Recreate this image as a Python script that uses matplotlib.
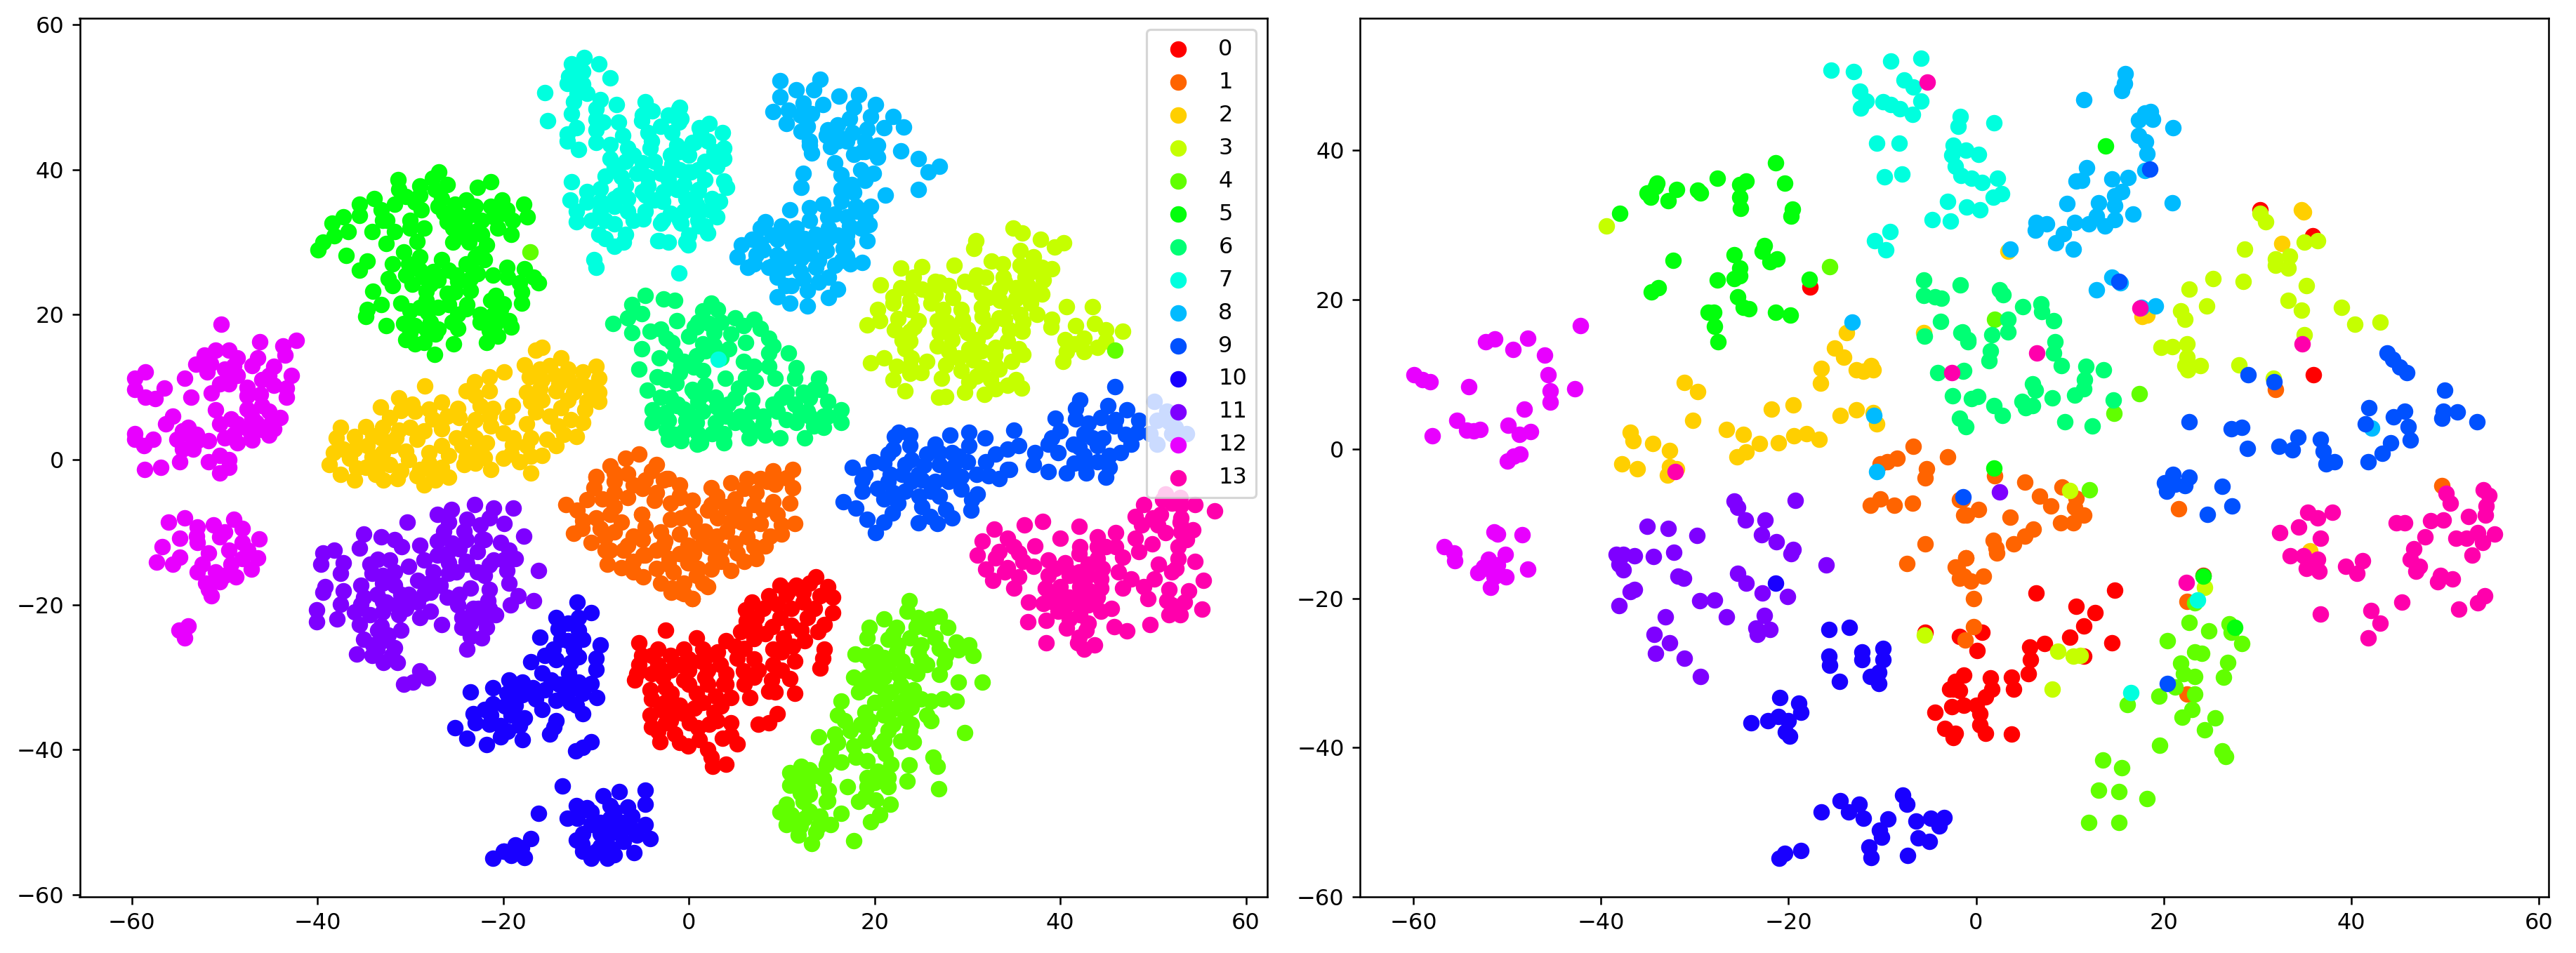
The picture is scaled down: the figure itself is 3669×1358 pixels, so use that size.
import numpy as np
import matplotlib
matplotlib.use("Agg")
import matplotlib.pyplot as plt

L0 = [(13.7,-16.2),(9.8,-17.3),(11.6,-17.3),(15,-17.5),(8.6,-18.8),(10.5,-18.6),(12.3,-18.3),(14.1,-18.8),(15.5,-19),(6.8,-19.6),(6.1,-20.7),(9.5,-19.9),(12.3,-19.6),(15.5,-21.1),(9.8,-21.8),(7.25,-21.8),(12.8,-21.8),(14.6,-22.7),(13.9,-23.7),(12.1,-23.5),(5.6,-23.7),(8.2,-24),(10.2,-24.6),(11.2,-25.7),(5,-25.7),(9.1,-26.1),(14.6,-26.1),(14.1,-28.7),(14.4,-27.4),(11.4,-27.8),(5.2,-27.4),(9.1,-28.3),(5.9,-29.1),(10.9,-30.2),(8.9,-30.4),(7,-30),(11.4,-32.2),(8.6,-31.9),(6.6,-32.8),(3.8,-30.9),(4.5,-32.8),(3.1,-26.5),(3.4,-28.3),(0.8,-24.6),(-2.5,-23.5),(-5.4,-25.3),(-3.3,-26.1),(-0.5,-26.1),(1.5,-26.1),(-5.4,-28.3),(-3.3,-28.3),(-1,-28.3),(1.3,-27.8),(-5.8,-30.4),(-4.2,-31.7),(-2.8,-30),(-0.5,-30.4),(1.75,-30),(-1.9,-32.2),(0.8,-32.2),(2.9,-32.6),(-1,-33.9),(2.7,-34.8),(-4.2,-35.2),(-2.6,-33.5),(0.6,-34.3),(0.1,-36.3),(-4,-36.9),(2.2,-36.5),(4.5,-36.3),(-3.1,-38.9),(-1.5,-37.8),(-0.1,-39.5),(1.1,-38.6),(3.6,-38.4),(5.2,-39.2),(7.5,-36.5),(8.6,-36.3),(9.5,-35),(2.4,-41),(4,-42),(2.6,-42.3),(-5.1,-27),(-5.6,-29.5),(-3.3,-37.5),(-2,-36),(-1.5,-35),
      (-4,-27),(-2,-27),(0,-27.5),(2,-27),(4,-25),(-4,-29.5),(-2,-29),(0,-29),(2,-29),(4,-29.5),(-4,-33),(-2.5,-31.5),(0,-31),(2,-31),(4,-31),(-3,-34.5),(-0.5,-35),(1.5,-33.5),(3.5,-34),(-2.5,-36.3),(1,-37),(6,-26),(7,-24.7),(7,-27.5),(7.5,-29),(6,-31),(10,-29),(10,-26.5),(12.5,-25),(7,-23),(9,-23),(11,-22.8),(8,-20.5),(11,-20.5),(13.5,-20.5),(10.8,-18),(13,-17),(6.2,-22.3),(9.3,-32),(3,-36),(-1,-39),(2,-40),(4.5,-38)]
L1 = [(-13.2,-6.2),(-12.4,-10.2),(-10,-2.3),(-5.4,0.8),(-6.8,0.2),(-8.5,-0.9),(-10,-2.4),(-3.5,-0.7),(-2.2,-2.6),(-10.2,-3.9),(-9.3,-5.4),(-6.6,-5.2),(-3.7,-5.6),(-2.7,-2.8),(-6.6,-1.9),(-4.7,-2.8),(-1,-4.9),(0.4,-5.6),(-11.4,-8.4),(-10,-8),(-9,-10.6),(-7.3,-8.6),(-5.1,-7.5),(-4.7,-9.3),(-10.5,-11.4),(-8.8,-14.4),(-7.3,-14.9),(-4.9,-16.2),(-6.6,-11.8),(-4.7,-13.2),(-2.7,-11.8),(-0.1,-11.8),(-0.1,-14.2),(-2.2,-14.4),(-1.8,-17.7),(0.4,-19.2),(-0.8,-18.3),(-2,-8.2),(11.2,-1.3),(9.1,-1.5),(7.7,-2.6),(6.3,-2.6),(4.5,-3.2),(2.4,-3.9),(-1,-5.2),(0.4,-5.6),(11.2,-3.9),(9.3,-3.4),(7.25,-4.5),(2.4,-6.2),(4.95,-5.4),(10.9,-6),(9.1,-5.8),(7,-6.2),(5,-7.1),(11.4,-8.8),(9.5,-7.5),(10,-10.3),(7.7,-8.8),(5.65,-8.6),(3.1,-8),(1.75,-9.9),(4.05,-9.9),(6.3,-10.6),(8.2,-11.9),(7.25,-13.6),(5.2,-12.9),(0.1,-11.9),(2.2,-12),(-0.1,-14.2),(2.4,-15.1),(4.5,-15.3),(2.9,-13.6),(0.6,-8.4),(-5.1,-7.5),(-2.1,-13.6),(-1.7,-15.5),(-1.9,-18.3),(0.4,-19.2),(2,-17.5),(-0.5,-17),(0.8,-16),(-4.9,-13.2),(-2.6,-11.2),(-3.5,-4.5),(-2.4,-2.6),(-8,-6.5),(-8.5,-12.5),(-6,-10.5),(-3,-10),(-0.8,-8),
      (-8,-3),(-6,-3.5),(-4,-1.5),(-8,-1.8),(-8,-4.5),(-5,-4),(-12,-7),(-11,-5.5),(-8.5,-7.5),(-11.5,-9.5),(-9.5,-9.5),(-8,-10),(-7,-12.5),(-9,-12.5),(-5,-11),(-3.5,-12.5),(-6,-14),(-3.5,-15),(-6,-15.5),(-1,-13),(-3,-17),(0.5,-13),(1,-10),(-1,-10.3),(3,-5),(6,-4),(8.5,-3),(10.5,-2.5),(4,-6.5),(6,-7.5),(8,-7),(10,-9),(8.8,-10.5),(6.5,-9),(4.5,-8.5),(3,-10.5),(5,-11.5),(7,-12),(3.5,-12.5),(1,-15),(3.5,-14),(1.5,-17),(-0.5,-18.5),(2,-7),(-2,-6),(0,-7.5),(-1,-3.5),(1.5,-11.5),(6,-14)]
L2 = [(-15.8,15.5),(-16.5,15.1),(-13.8,14),(-17.7,13.1),(-19.9,12.1),(-21.5,11.4),(-23.1,10.8),(-10,12.9),(-11.4,12.1),(-14.3,11.6),(-9.7,11.2),(-17.2,11.4),(-15.8,11),(-12.9,11),(-17.5,9.3),(-14.3,9.5),(-12.4,9.3),(-9.7,9.3),(-9.7,8),(-15.8,8.2),(-21.5,9.5),(-23,8.8),(-28.4,10.2),(-31.2,8.5),(-29.8,7.7),(-26.6,7.9),(-33.2,7.3),(-24.9,7.1),(-22.5,7.5),(-21.1,7.1),(-13.8,7.2),(-11.2,6.9),(-16.5,6.6),(-19.6,5.9),(-21.5,6),(-32.2,5.8),(-29.5,6.7),(-27.6,5.6),(-24.7,5.8),(-11.4,5.1),(-17.5,4.9),(-14.1,4.7),(-37.5,4.5),(-34.8,4.6),(-31.2,4.1),(-26.6,4.3),(-23.7,4.1),(-21.3,4.7),(-12.1,3.2),(-18.9,3),(-15.3,2.8),(-38,3),(-36,3.2),(-33.1,3),(-29.3,2.8),(-26.6,1.9),(-24.4,1.9),(-21.8,2.3),(-17.5,1.9),(-14.3,1.9),(-37.2,1.5),(-34.6,1.9),(-31.9,1.9),(-23,1),(-25.9,0.6),(-19.1,0.8),(-15.8,0.6),(-38.7,-0.7),(-36.5,0.2),(-34.1,0.4),(-30.2,0),(-24.2,-0.7),(-21.3,-1.3),(-18.2,-0.3),(-17,-1.8),(-37.5,-2),(-36,-2.8),(-34.8,-1.1),(-32.2,-0.7),(-32.9,-2.8),(-31.4,-2.6),(-29,-1.3),(-26.6,-1.1),(-29.3,-2.2),(-27.3,-2.8),(-25.9,-2.4),(-28.5,-3.5),
      (-15,13),(-16,12.5),(-13,12.5),(-11.5,10.5),(-14,10.5),(-16,9.8),(-13,8.2),(-11,8),(-10.8,10),(-17,8),(-15,6),(-12.7,5.5),(-19,7.5),(-24,9.5),(-26,6),(-28,7),(-31,6.8),(-23,5.5),(-30,4.5),(-33,4.5),(-28.5,4),(-25,3),(-23,3),(-20,3.7),(-19,2),(-17,3),(-13.5,3.5),(-36,1.5),(-33,1),(-30.5,1.2),(-28,1),(-24,0.3),(-22,0.3),(-20,0.2),(-17,0.5),(-35.8,-1.2),(-33.3,-0.8),(-31,-1.5),(-28,-0.5),(-27.5,-2),(-23,-0.5),(-33.7,-2),(-38.3,1),(-34,3.3),(-31.5,3)]
L3 = [(34.9,32),(35.9,31.3),(30.9,30.2),(37.9,30.4),(40.4,29.9),(39.4,29.3),(30.7,29.1),(35.7,28.9),(32.6,27.4),(37.1,28),(22.85,26.4),(25.1,26.6),(28.6,26.8),(35.7,26.8),(38,26.5),(39.1,26.3),(24.2,25.2),(26.5,24.6),(29.7,24.6),(32,25.2),(33.9,25.2),(36.2,25.2),(38.2,24.8),(20.65,24.1),(22.85,23.7),(25.1,23.5),(30.6,24.2),(35.2,23.7),(37.1,23.3),(32.25,22.4),(23.8,22),(28.4,22.4),(35.2,22.2),(38,22.9),(22,21.6),(26.1,21.6),(29.3,20.7),(34.5,21.1),(36.8,21.6),(20.3,20.7),(23.8,20.7),(27.4,20.7),(31.6,19.8),(33.4,19.6),(35.7,20),(37.5,20),(39.1,19.4),(40.7,21.1),(43.5,21.1),(19.2,18.6),(20.55,19.2),(22.15,17.9),(24.7,19.2),(26.75,19.2),(29.5,19.4),(39,18.3),(23.8,17.7),(28.35,17.9),(32,17.7),(34.55,17.9),(35.9,17.7),(41.65,18.5),(43.7,18.8),(44.9,17.9),(46.7,17.7),(23.8,16.4),(28.35,16.6),(31.1,16.6),(34.3,16.4),(40.5,16.6),(42.6,16.8),(44.9,16.4),(26.75,15.7),(23.3,15.3),(30.2,15.3),(35.5,15.3),(42.6,14.9),(40.7,14.9),(25.6,13.6),(24,14),(19.6,13.4),(21,14),(22.4,12.9),(30.65,13.8),(32.95,14.4),(34.8,13.6),(40.3,13.6),(23.8,11.9),(22,11),(27.7,13.1),(29.3,12.3),(31.6,12.7),(33.4,12.5),(27.2,11.2),(30.2,10.8),(32.5,11),(35.2,11),(35.8,9.9),(34.3,10.3),(23.3,9.5),(29.7,9.3),(31.8,9),(26.9,8.6),(27.7,8.7),
      (24,24),(26,23),(28,24),(22,22.5),(24,21),(26.5,22.8),(22.5,19.5),(27.8,19),(30,18),(31.5,23),(33.5,23.5),(34,24.5),(36,22.8),(33.5,22),(31.5,21),(36.5,24),(36,19),(32.5,18.5),(34,19.4),(33,15.5),(27,17.5),(30,17.5),(33,13),(31,11.5),(29,14),(31.5,15),(36,26.5),(37,26),(33.8,27),(28,15),(25,12),(33,9.8),(35.5,23),(27,24.5),(31,25.5),(41.5,16),(44,15.5),(36,14.5),(24.3,18.3),(23,16.5),(23.8,13)]
L4 = [(-17.1,28.7),(45.9,15.1),(23.7,-19.4),(23.5,-20.9),(21,-22),(27,-21.6),(24.7,-21.8),(27.9,-23.1),(19.4,-23.1),(22.4,-23.1),(25.6,-23.3),(19.2,-24.6),(21.5,-24.8),(23.8,-24.6),(26.5,-24.6),(28.8,-25.2),(30.2,-25.5),(17.9,-26.8),(20.1,-26.5),(22.4,-26.5),(24.7,-26.5),(27.7,-27),(30.65,-27),(31.6,-30.7),(19.6,-28),(21.5,-28.3),(23.8,-29.1),(25.6,-28.3),(17.8,-30),(19.2,-30),(21,-30),(27,-29.6),(29,-30.7),(18.3,-32),(22.85,-31.1),(24.2,-31.7),(28.8,-33.3),(26.05,-33.3),(27.4,-33),(21,-33),(22.85,-33.5),(16.4,-33.3),(16,-35.2),(19,-34.8),(21,-35.2),(23.3,-35.6),(25.6,-35.2),(26.05,-36),(29.7,-37.6),(17.35,-37.4),(19.2,-37.1),(21.5,-37.4),(23.8,-37.4),(14,-38.2),(15.7,-37.8),(17.8,-39.5),(24.2,-38.9),(15.3,-40.2),(21.2,-40.6),(19.2,-41.5),(16.4,-41.7),(26.3,-41),(23.7,-42.1),(26.75,-42.3),(12.1,-42.3),(14.8,-42.1),(10.9,-43.2),(13.7,-43.6),(21.5,-43.8),(19.2,-43.8),(23.5,-44.3),(10.9,-44.9),(12.8,-45.1),(15.05,-45.6),(17.1,-45.1),(19.2,-45.1),(21.5,-45.1),(26.9,-45.4),(12.3,-47.1),(14.8,-47.1),(18.3,-47.1),(20.1,-46.9),(21.7,-47.5),(10.5,-47.5),(9.8,-48.6),(16.4,-48.8),(20.55,-49),(19.6,-49.9),(12.5,-49.5),(14.1,-49.2),(10.5,-50.3),(15.3,-50.3),(11.8,-51.8),(13.7,-51.4),(13.2,-52.9),(17.8,-52.6),
      (22,-24),(24.5,-23),(26,-22),(22.5,-25.5),(25,-25.5),(27,-26),(29,-26.2),(19,-27),(21,-27.3),(23,-27.8),(25,-27.6),(27.5,-28),(20.5,-29.2),(22.6,-29.6),(24.6,-29.5),(19,-31.5),(20.5,-31.2),(23.5,-32.5),(21.8,-32),(25,-33),(20,-33.5),(22,-34.4),(24,-34.2),(19.5,-36),(22,-36.5),(24,-36.5),(18.5,-36.5),(16.8,-36),(19,-38.7),(21,-38.7),(22.8,-38.8),(16,-39),(18,-41),(20.5,-39.5),(15,-41.5),(13,-42.8),(12,-44),(14.5,-44),(20.3,-43),(21.8,-42),(13,-46.2),(15,-47),(12,-46),(20,-44.5),(19,-46.5),(13,-48.5),(11,-49),(12,-50.5),(14,-50.5)]
L5 = [(-26.9,39.7),(-27.6,38.8),(-21.3,38.3),(-31.3,38.6),(-22.8,37.6),(-31.2,37.3),(-27.3,37.3),(-33.9,36),(-30.5,36.3),(-29,36.5),(-26.6,36),(-24,35.8),(-20.1,35.8),(-35.5,35.2),(-31.7,35.2),(-25.2,35.2),(-23,35),(-21.3,35),(-17.8,35.2),(-33.1,34.5),(-28.8,34.5),(-26.4,34.1),(-19.6,34.5),(-35.5,33.7),(-37.2,33.5),(-17.4,33.5),(-38.4,32.6),(-30,33),(-24.2,32.6),(-22.3,33),(-25.4,32),(-34.1,31.5),(-31.7,31.5),(-28.5,32),(-36.7,31.5),(-20.6,32),(-19.1,31.1),(-22.3,31.1),(-24.5,30.9),(-32.6,29.8),(-29.3,30.1),(-38.2,30.9),(-39.4,30),(-39.9,29),(-25.4,30),(-23.7,30),(-21.8,29.6),(-30.7,28.7),(-36.9,28.2),(-26.6,27.6),(-34.6,27.4),(-22,27.6),(-31.9,27),(-30.2,27),(-23.5,26.8),(-35.5,26.1),(-29,26.1),(-25.9,26.1),(-19.6,26.5),(-17.7,26.3),(-32.4,25),(-28.5,25.2),(-22.8,25.7),(-21.1,25.5),(-16.7,25.2),(-16.2,24.4),(-31.9,24),(-29.8,24.2),(-27.8,24.2),(-24.9,24.6),(-18.2,24.4),(-34,23.2),(-23.5,23.3),(-25.2,23.1),(-18,23.1),(-28.3,22),(-20.8,22.7),(-21.3,22),(-31,21.6),(-33.1,21.4),(-25.9,21.4),(-23.9,21.4),(-18,21.6),(-34.6,20.7),(-34.8,19.8),(-30,20.5),(-28.1,20.3),(-20.3,20.7),(-24.9,20),(-19.4,19.2),(-32.6,18.5),(-30.7,18.8),(-27.8,19),(-22.5,19),(-20.8,18.8),(-24.9,18.1),(-27.3,17.3),(-20.6,17),(-30.5,16.6),(-29.5,16),(-21.8,16.2),(-25.3,16),(-27.4,14.5),(-19.1,18.3),
      (-29,37.8),(-26,38),(-25,34),(-29.5,35.5),(-32.5,33),(-30,32),(-27,35),(-23.5,33.8),(-19,33),(-21,33.5),(-20,34),(-23,31.5),(-26,32.8),(-22.5,28.5),(-23,28),(-29,28),(-27.5,26),(-27,24.8),(-25,25.5),(-23.5,25),(-30.5,25.5),(-28.3,23.2),(-27,21),(-29,21),(-29.5,18.5),(-27,18),(-25.5,19),(-28.3,18),(-24,20.8),(-22.5,20),(-21,20),(-20,21.5),(-28.5,16.2),(-20.5,19.7),(-30,17.5),(-21.5,17.8),(-33,33),(-24,27),(-26,23),(-19.5,25.2)]
L6 = [(-8.2,18.8),(-4.7,22.7),(-6.1,21.4),(-2.7,22.2),(-1.5,22),(-6.6,19.6),(-5.1,20.1),(-1.3,19.2),(-6.1,17.5),(-4.2,17.7),(0.6,18.3),(-5.1,15.3),(-1.8,16.2),(-3.2,14),(-0.8,13.1),(-5.4,12.5),(-3.4,11.4),(-1.4,10.6),(-4.5,9.6),(-3,8.6),(0.4,9.7),(-3.9,6.9),(-1.3,7.5),(-3.9,5.1),(-2.2,5.4),(-0.3,5.4),(-2.2,2.8),(-0.8,2.6),(0.9,2.1),(2.4,21.6),(1.5,20.5),(3.1,20.7),(4.95,19.6),(7,19.4),(2.2,18.8),(0.85,18.3),(5.9,18.5),(7.7,18.1),(2.7,17.5),(-2.4,16.8),(4.5,17.3),(8.6,16.8),(6.1,16.2),(1.5,16),(9.1,15.7),(4.3,15.3),(10.7,14.7),(0.85,14.3),(-0.55,13.6),(8.6,14.7),(5.9,13.6),(7,12.9),(8.6,12.9),(1.5,12.3),(11.6,12.7),(9.3,11.2),(11.4,11.2),(3.95,11.2),(6.1,11.2),(14,11.2),(1.75,10.3),(7.15,10.8),(14.1,9.7),(0.6,9.3),(5.4,9.9),(10.5,9.3),(12.3,9.3),(2.9,8.6),(-1.2,7.7),(6.8,8.2),(4.25,7.7),(9.1,7.7),(11.4,7.7),(15,8),(1.5,6.7),(-0.1,6.4),(3.6,6.7),(16.4,6.9),(6.8,6.7),(9.55,6.7),(12.75,6.7),(0.8,5.1),(2.9,5.1),(4.95,5.1),(6.3,4.7),(11.6,5.1),(13.45,4.7),(16.4,5.1),(-2.4,4.1),(3.8,3.6),(8.2,3.4),(9.8,3),(12.5,3),(1.3,2.3),(3.8,2.3),
      (-3,18),(0,17),(1,19),(3.5,19),(1.8,15),(-1.5,14.5),(3.5,14),(0.5,12.8),(-1,12),(2.7,15.8),(-0.5,7),(1,8),(3,7.3),(1.5,9),(-2,8.5),(-2.5,6.5),(-0.5,4),(1,3.6),(2.5,3.6),(0,6),(5.5,6),(5,8.5),(8,6),(8,5),(10.5,5.5),(13,6),(14.5,6),(14.5,4.5),(12,6.5),(7,4),(4,6),(6.5,3),(-1.5,3.5),(15,6),(10,8.5),(13,8.5),(13.5,9.8),(-3,6),(-2.5,11)]
L7 = [(3.2,13.9),(-11.3,55.5),(-9.7,54.6),(-12.6,54.6),(-11.4,53.5),(-12.9,52.9),(-8.5,52.7),(-13.1,51.9),(-11.4,51.8),(-15.5,50.6),(-12.4,49.4),(-9.5,49.7),(-7.8,49),(-4.7,49.4),(-1.1,48.4),(-12.6,47.7),(-10,48.4),(-15.2,46.8),(-3.9,48.1),(-2.2,47.5),(-7.6,46.6),(-9.2,46.6),(-5.1,46.8),(-1.1,46.6),(1.1,45.8),(-12.1,45.8),(-13.1,44.9),(-10,43.8),(-10,45.5),(-7.1,44.7),(-4.4,45.1),(-1.8,45.1),(-13.1,44),(-11.9,42.8),(-6.6,43),(-4.2,43),(-1.3,43.4),(0.6,43.8),(-6.8,41.2),(-3.7,41.2),(-8,40.4),(-9,39.1),(-12.6,38.3),(0.2,39.7),(-5.6,39.5),(-1.8,40.8),(-2.2,38.6),(-6.8,37.9),(-9.5,37.4),(-4.4,37.8),(-1.3,37.3),(-12.8,35.8),(-9.5,35.6),(-6.6,36),(-3.7,35.8),(-12.1,34.3),(-9.5,34.3),(-6.6,34.3),(-4.7,34.3),(-0.3,34.5),(-12.1,32.8),(-9,33),(-4.9,33.2),(-3,32.6),(-0.8,32.6),(-6.8,31.1),(-9.7,31.1),(1.1,32.2),(-3.2,30.2),(-2.2,30),(-0.1,29.6),(-8,29.4),(-10.2,27.6),(-10,26.5),(-1.1,25.8),(-1,48.6),(-0.8,47.1),(2.2,46.4),(3.6,45.1),(1.3,45.1),(0.4,43.8),(3.8,43),(2.7,42.5),(3.8,41.5),(-1,42.5),(1.75,41.2),(-0.1,39.7),(1.75,38.6),(3.8,38.4),(4.05,37.6),(1.05,37.3),(3.35,35.6),(0.85,35.2),(-0.55,34.3),(2.2,34.5),(-4.7,36.5),(-2.8,35.6),(-2.8,33),(1.75,32.2),(-3.3,30.2),(-0.3,30),(2,31.3),
      (-11,50.5),(-10,47),(-5,47.5),(-3,46),(-6,42),(-4,44),(-2,42),(-8.5,43.5),(-8.5,41.5),(-5,41),(-3,39.5),(-7.3,39),(-4.5,39),(-1,40),(-0.5,38),(-8,36),(-5,37),(-2.7,37),(-0.3,36),(-11,37),(-10.5,33),(-8,32.5),(-7.5,36.5),(-8,35),(-6,33),(-2,34),(-1,33),(1,34),(0,31),(-9,30.5),(-7,30),(1,40),(0,42),(2,44),(3,40.5),(1,37),(2.5,36),(3,33.5),(1,33),(-11,35.5),(-12,52),(-12,50.5)]
L8 = [(9.8,52.3),(14.1,52.5),(11.6,51),(13.45,51),(9.8,50.1),(16.2,50.2),(18.3,50.3),(12.3,49.2),(14.4,49),(20.1,49),(17.8,48.6),(9.1,48),(10.7,48.2),(13.2,47.7),(22,47.3),(19.6,47.3),(17.3,47.1),(10.5,46.4),(12.75,46),(16,46.2),(21,45.8),(23.1,45.9),(19.2,45.6),(12.1,45.3),(17.6,45.1),(14.8,44.7),(16.4,44.3),(13,43.4),(20.3,43.4),(22.85,42.6),(18.7,42.5),(15.3,43.2),(13.2,42.3),(17.8,42.1),(24.7,41.5),(20.3,41.7),(15.7,41),(25.8,39.7),(27,40.5),(18.5,40),(19.9,39.5),(12.3,39.5),(16.4,39.3),(12.1,37.6),(24.7,37.3),(21.15,36.5),(16.4,37.3),(17.8,36.9),(10.9,34.5),(14.4,35.2),(16.4,35.6),(19.6,35),(15.7,33.9),(18,34.3),(8.2,32.8),(13,33),(19.4,32.4),(10,32.2),(17.3,32.2),(11.6,32),(7.7,32),(15.05,32),(19.2,30.2),(6.8,30.4),(9.55,30.4),(13.7,31.1),(16.65,29.1),(5.65,29.6),(7.7,29.8),(11.2,29.8),(14.8,28.9),(5.2,28),(7.25,28.3),(9.55,28.3),(12.1,27.8),(18.7,27.2),(17.35,27),(15.7,26.8),(6.35,26.5),(8.6,26.5),(13.7,26.5),(10.5,26.5),(15.05,25.2),(9.55,25.2),(12.3,25),(16,23.5),(10.45,24),(12.75,23.3),(9.55,22.5),(15.05,22.4),(10.9,21.6),(12.75,21.2),
      (12,47.5),(13,44),(17,44),(16,44),(15,45.5),(19,44),(17.5,38),(18,35),(17,33.5),(15,33.5),(13,34.8),(15,30.5),(12.5,30.5),(11,31),(9,31),(8,29),(10,27.8),(9,26.7),(12,29),(13,28.5),(12,26),(14,24.5),(17,31),(18.5,32),(19,33.5),(16,31),(14,27.5),(17,28),(7,27),(11,24),(13.5,30),(17,30),(16.5,27.5),(19,42.5),(19,38.5),(11,28)]
L9 = [(45.9,10.1),(42.1,8.2),(41.65,7.1),(45.1,7.5),(47.2,6.9),(39.45,5.7),(41.65,5.6),(44.4,5.8),(45.8,4.7),(48.5,5.4),(35,4.1),(22.6,3.8),(22.15,3.2),(23.8,3.4),(28.1,3.4),(30.2,3.8),(31.9,3),(39.1,3),(42.6,3.6),(44.6,3),(48.3,3.8),(35.5,1.9),(34.3,1.5),(47.6,2.1),(41.4,2.1),(44,1.9),(38.7,2.1),(37.3,1),(39.8,1),(23.8,1.9),(26.5,2.1),(30.2,1.9),(21.5,0.8),(25.6,0.8),(28.35,1),(33,0.8),(42.6,0.6),(45.3,0.6),(37.1,-0.7),(32,-0.3),(34.3,-1.3),(19.9,-0.3),(23.3,-0.7),(27,-0.7),(30,-0.3),(45.3,-1.1),(38.7,-1.6),(40.7,-1.8),(42.8,-1.8),(44.9,-2.4),(17.6,-1.1),(19,-2),(21.7,-2),(24.7,-2),(27.9,-2.4),(32.25,-2.2),(18.7,-2.8),(21.5,-3),(25.1,-2.8),(29.3,-2.3),(33.4,-2.6),(34.55,-1.3),(18.7,-4.3),(23.3,-4.3),(26.05,-4.3),(29.3,-4.1),(31.1,-4.7),(16.65,-5.8),(18,-6.7),(21,-5.4),(21.9,-7.3),(25.1,-6.5),(27.7,-6.9),(30.4,-7),(19.2,-8.2),(21,-8.6),(24.7,-8.7),(26.75,-8.8),(28.35,-8),(20.1,-10.1),(50.1,8),(51.5,6.7),(50.4,5.4),(53.6,3.6),(52,3.6),(50.4,2.1),(51.7,5.2),(49.7,3.6),(52.4,4.5),
      (22,1.5),(24,0),(21,-0.5),(23,-2),(25.3,-0.8),(27,1),(29,0.5),(28.5,-1),(26.5,-3),(24,-3),(22,-4.5),(24.8,-5),(28,-3),(31,-2),(20.3,-4),(22.5,-6),(27,-5),(30.5,-5.5),(26,-7.8),(40,4),(43,5),(43.5,3),(47,3.5),(46,5.5),(42,1.8),(44,-0.3),(46.5,1),(42.5,-0.7),(41.5,-0.5)]
L10 = [(-12,-19.6),(-10.5,-21.1),(-14.3,-21.8),(-11.9,-21.8),(-14.1,-23.3),(-11.9,-23.5),(-16,-24.5),(-13.8,-24.8),(-11.4,-24.8),(-9.5,-25.5),(-14.6,-26.1),(-12.4,-26.1),(-11.9,-27.2),(-10,-27.4),(-17,-27.9),(-14.3,-27.6),(-10,-28.9),(-15.8,-29.4),(-12.9,-29.4),(-14.8,-30.4),(-11.9,-30.7),(-10.5,-30.9),(-19.4,-30.4),(-17.9,-30.7),(-21.1,-31.5),(-23.5,-32),(-15.5,-31.7),(-13.3,-32),(-11.4,-32.2),(-9.9,-32.8),(-19.6,-32.2),(-17.9,-32.4),(-16.5,-33),(-14.3,-33.2),(-21.1,-33.7),(-18.7,-33.9),(-12.1,-33.9),(-11.4,-35),(-23.2,-35),(-21.3,-35.2),(-19.1,-35.2),(-15.8,-34.5),(-14.3,-36),(-17.7,-35.6),(-25.2,-37),(-23,-36.3),(-20.3,-36.7),(-18.2,-36.7),(-15,-37.8),(-14.5,-36.9),(-23.9,-38.4),(-20.3,-38.2),(-17.9,-38.6),(-10.5,-38.9),(-11.4,-39.7),(-12.2,-40.2),(-21.8,-39.3),(-13.6,-45),(-4.7,-45.6),(-4.7,-47.5),(-7.5,-45.8),(-9.2,-46.4),(-12.1,-47.7),(-6.6,-47.9),(-8.5,-47.7),(-10.5,-48.6),(-16.2,-48.8),(-13.1,-49.5),(-8.5,-49.5),(-6.1,-49.2),(-10.5,-50.3),(-4.7,-50.3),(-12.1,-52.5),(-9.5,-51.6),(-7.6,-51.2),(-5.6,-51.8),(-4.2,-52.3),(-11.4,-54),(-9.5,-53.3),(-8.8,-55),(-5.9,-54.2),(-10.5,-55),(-8.3,-53.6),(-17,-52.3),(-18.7,-53.1),(-19.9,-54),(-21.1,-55),(-17.7,-54.9),(-19.1,-54.6),(-11.4,-51.6),
       (-13,-25),(-13,-22.5),(-12.7,-28),(-15.5,-27),(-13,-30.5),(-14,-31),(-12.4,-31.5),(-12.8,-33.5),(-19,-31.7),(-21.5,-36.5),(-19.8,-34),(-22,-34.5),(-19.5,-37.5),(-16.8,-31.5),(-8,-48.5),(-9.5,-50),(-7,-50),(-12,-49.5),(-11.5,-53),(-9,-52.5),(-7,-52.7),(-8,-54.5),(-10,-54),(-8.3,-51.5),(-6.3,-50.7),(-11,-48),(-20,-54),(-18,-53.5)]
L11 = [(-23.1,-6.2),(-18.9,-6.7),(-21,-6.7),(-25.6,-6.9),(-27.1,-7.5),(-30.3,-8.6),(-21.5,-8),(-19.9,-8.8),(-23.9,-8.2),(-25.9,-8.6),(-24.2,-9.9),(-26.4,-9.9),(-35,-10.3),(-33.1,-10.6),(-31.7,-11),(-17.8,-10.5),(-22,-11),(-27.1,-11.2),(-20.3,-11.4),(-29,-11.8),(-35.5,-12.2),(-30.9,-12),(-38.2,-12.5),(-24.7,-12.3),(-22.8,-12.7),(-19.4,-12.5),(-39.4,-12.9),(-32.2,-13.8),(-27.1,-13.2),(-18.7,-13.6),(-21,-13.8),(-28.5,-13.8),(-39.6,-14.4),(-37.2,-14.2),(-34.3,-14.4),(-23.9,-14.4),(-25.9,-14.2),(-30.2,-14.7),(-37.5,-15.7),(-16.2,-15.3),(-22.8,-15.5),(-19.6,-15.3),(-25.9,-15.7),(-34.1,-15.7),(-31.7,-15.5),(-19.4,-17),(-29.2,-16.6),(-39.2,-17.5),(-35.3,-17.3),(-31.7,-17.3),(-26.8,-17.3),(-23.5,-17.7),(-21.5,-17.9),(-39.4,-18.3),(-37.2,-18.1),(-33.6,-18.6),(-30.2,-18.6),(-27.8,-18.3),(-24.7,-18.6),(-18.4,-18.8),(-16.7,-19.4),(-21.6,-19.4),(-37.5,-19.9),(-35.3,-19.9),(-32.6,-19.6),(-29.2,-19.6),(-24.9,-20),(-19.2,-20),(-40.1,-20.7),(-27.8,-20.9),(-23.2,-20.5),(-37.9,-22),(-34.3,-21.4),(-31.2,-21.4),(-29,-21.8),(-20.8,-21.4),(-24.4,-21.8),(-22.3,-21.8),(-40.1,-22.4),(-35.5,-22.7),(-33.1,-22.9),(-26.6,-22.7),(-24.4,-23.1),(-21.8,-23.1),(-35,-24.8),(-32.4,-24.2),(-23.5,-24.4),(-22.3,-24.6),(-23.9,-26.1),(-31.7,-25.9),(-33.6,-26.1),(-35.8,-26.8),(-34.1,-27),(-31.4,-28),(-32.9,-28),(-29,-29.1),(-28.1,-30.1),(-29.7,-30.7),(-30.7,-31),
       (-24,-11),(-25.5,-11.5),(-22.5,-9),(-26,-13),(-24,-14),(-21.5,-14.5),(-20,-13.8),(-22.3,-11),(-33,-17),(-33,-16),(-35,-19),(-33,-19.5),(-31,-18.6),(-33,-21),(-28.5,-18.5),(-30.5,-20.5),(-33.5,-23.5),(-36,-21),(-31,-23.5),(-34,-25.5),(-32,-27),(-33,-25),(-31.5,-20),(-26,-19),(-27.5,-15.5),(-28,-17),(-23.5,-22.5),(-22.7,-20.5),(-21.5,-20.5),(-25,-15.5),(-22,-16),(-33.5,-13.7)]
L12 = [(-50.4,18.7),(-46.2,16.3),(-42.3,16.5),(-43.7,15.7),(-43.5,14.4),(-46.4,14),(-44.7,12.9),(-45.2,11.6),(-42.8,11.6),(-49.5,15.1),(-51,15.1),(-52.2,14.4),(-48.6,14),(-51.5,13.3),(-53.1,13.2),(-51.9,12.1),(-48.6,11.6),(-49.5,10.5),(-51.4,9.2),(-54.3,11.2),(-53.6,8.6),(-58.5,12.1),(-59.7,11.2),(-59.7,9.7),(-58.5,8.6),(-57.5,8.4),(-56.5,9.9),(-47.6,8.8),(-46.1,9),(-43.3,8.6),(-43.3,9.9),(-44.7,10.3),(-47.6,7),(-51,6.9),(-45.2,6.7),(-44,5.8),(-49.3,5.6),(-50.5,4.9),(-55.6,6),(-56.3,4.9),(-53.9,4.5),(-59.7,3.6),(-57.7,2.8),(-59.7,2.8),(-58.7,1.9),(-55.1,2.8),(-52.9,2.6),(-51.7,2.6),(-54.8,-0.3),(-53.4,1.5),(-50.5,0.6),(-51.7,-0.3),(-49.5,-1.1),(-50.5,-1.8),(-58.6,-1.3),(-56.9,-1.1),(-50,3),(-48.6,2.3),(-47.1,3.2),(-45.2,3.4),(-48.6,4.9),(-46.6,5.1),(-44.7,4.3),(-54.3,-8),(-56,-8.6),(-52.9,-9.3),(-51.2,-9),(-49,-8.2),(-48.1,-9.5),(-54.8,-10.8),(-52.9,-11.4),(-50.5,-10.6),(-46.3,-10.9),(-48.1,-11.4),(-56.7,-12),(-54.8,-13.4),(-57.3,-14.1),(-55.6,-14.4),(-51.7,-12.9),(-49.5,-12.5),(-46.4,-13.5),(-52.4,-14.4),(-48.1,-13.6),(-49.3,-14.4),(-47.1,-15.1),(-52.9,-15.5),(-51,-15.5),(-48.8,-16.2),(-50.5,-16.8),(-51.7,-17.9),(-51.4,-18.8),(-53.9,-22.9),(-54.9,-23.5),(-54.3,-24.6),
       (-47,13),(-49,13),(-50,12.5),(-46,11),(-50.5,10.5),(-47.6,10),(-46,7.5),(-47,5.8),(-47.5,4.3),(-46,4.2),(-49,3.5),(-54.5,4),(-53,3.5),(-54.5,1.5),(-53.5,3),(-45,5),(-47,2.7),(-49.5,0),(-50,-10),(-53,-10.5),(-47.5,-12.5),(-50,-16),(-52,-17)]
L13 = [(51.3,-4.7),(52.9,-5.2),(54.5,-6.2),(56.6,-7.1),(49,-6.2),(50.8,-7.5),(48.1,-7.8),(38.1,-8.5),(36.1,-9),(32.85,-9.6),(42,-9.2),(52.9,-8.6),(48.8,-9),(46,-10.1),(44,-10.6),(54.3,-9.7),(51.3,-10.1),(40,-10.8),(34.3,-10.8),(31.6,-11.2),(48.1,-10.8),(53.6,-11),(42.1,-12),(37.3,-11.9),(44.9,-12),(49.9,-11.6),(52.7,-12),(31.1,-13.2),(33.4,-12.7),(35.5,-12.9),(46.7,-13.4),(48.5,-12.7),(44,-13.6),(38.7,-13.8),(40.5,-14.2),(52.7,-13.6),(54.5,-14),(43,-14.4),(32,-15.1),(34.3,-14.9),(37.1,-14.7),(50.6,-14.4),(52,-15.5),(46.25,-15.5),(32.7,-16.6),(35.5,-16.2),(38.7,-16),(41,-16),(44.4,-16.4),(47.6,-16.4),(50.1,-16.4),(55.4,-16.6),(35,-17.7),(38.4,-17.7),(42.1,-17.5),(44.4,-17.7),(46.7,-17.7),(49,-17.5),(51.75,-17.9),(53.8,-18.1),(39.8,-18.8),(42.6,-18.8),(36.6,-19.6),(38.2,-19.8),(49.45,-19.2),(51.5,-19.4),(53.35,-19.6),(40.7,-20),(43,-20),(45.55,-20.5),(39.8,-20.9),(42.1,-21.4),(44.4,-20.9),(55.3,-20.6),(51.75,-21.4),(52.9,-21.4),(38.45,-22.2),(36.5,-22.4),(49.7,-22.7),(45.8,-23),(47.2,-23.6),(40.7,-23.2),(42.8,-23.5),(38.5,-25.3),(41.9,-25.3),(43.7,-25.5),(42.6,-26.1),
       (35,-12),(33,-13.5),(36,-14),(34,-15.5),(39.5,-15),(41,-15.5),(42,-15.5),(43,-16),(40,-17.5),(41,-19),(43,-18),(42,-20),(41,-22),(39,-19.5),(44,-19),(42,-13),(44,-12),(46,-12),(44.5,-15),(53,-10),(50.5,-9),(53,-8),(50,-8),(52,-6),(51,-5.5),(53,-6.3),(42,-24.5),(43,-22.5),(52,-20),(52.5,-15)]

R0 = [(-17.7,21.7),(35.9,28.6),(30.3,32),(36,9.9),(6.4,-19.3),(14.8,-18.9),(10.7,-21.1),(12.7,-21.9),(11.5,-23.7),(10,-25.2),(14.5,-26),(7.3,-26.1),(5.7,-26.5),(0.1,-27),(0.6,-24.6),(-1.8,-25.1),(5.8,-28.2),(5.6,-30.1),(3.8,-30.6),(4,-32.2),(1.5,-30.7),(-1.3,-30.3),(-2.2,-31.1),(1.7,-32.2),(1,-33.2),(-1.8,-32.4),(-2.8,-32.2),(-1.3,-34.3),(-2.6,-34.5),(0.4,-35.5),(0.4,-37),(1,-38.1),(3.8,-38.2),(-2.2,-38.1),(-2.4,-38.7),(11.5,-27.8),(0,-34.3),(-4.4,-35.3),(-3.3,-37.4),(-2.4,-32.2),(-5.4,-24.6),(24.2,-16.9)]
R1 = [(-6.7,0.4),(-8.4,-1.2),(-9.5,-1.7),(-10.2,-2),(-3,-1.1),(-5.3,-2.65),(-5.4,-3.9),(-11.3,-7.5),(-10.2,-6.65),(-8.7,-7.5),(-6.8,-7.3),(-1.8,-6.8),(-1.3,-8.9),(-5.4,-12.7),(-7.4,-15.3),(-1.1,-14.6),(-2,-16),(-1.3,-17),(1.98,-3.6),(5.2,-4.4),(9.2,-5.1),(6.8,-6.3),(8,-7.6),(10.7,-6.6),(10.5,-7.8),(11.5,-8.9),(9,-9.85),(10.4,-9.9),(-1.5,-6.8),(0.26,-8.1),(-1,-8.9),(3.6,-9.1),(6.1,-10.7),(5.2,-11.7),(4,-12.7),(1.8,-12.2),(2.1,-13.3),(2.2,-13.9),(-1.1,-14.55),(-2.2,-15.8),(-1.8,-17.3),(-0.6,-17.7),(0.8,-17),(-0.3,-20),(-0.3,-23.8),(-1.2,-25.6),(21.6,-8),(49.7,-4.9),(22.5,-20.4),(22.5,-32.8),(31.9,8)]
R2 = [(-13.8,15.6),(-15.1,13.5),(-14.1,12.3),(-12.8,10.6),(-12,10.4),(-11.2,11.2),(-11,10.6),(-16.5,10.8),(-16.6,8.8),(-31.1,8.9),(-29.7,7.7),(-30.2,3.8),(-19.5,5.9),(-21.8,5.3),(-12.8,5.2),(-14.5,4.5),(-11,4.9),(-10.6,3.4),(-26.6,2.6),(-24.8,1.97),(-23.1,0.7),(-21.1,0.8),(-19.4,1.8),(-18.1,2),(-16.7,1.3),(-24.5,-0.4),(-25.5,-1.05),(-36.9,2.2),(-36.6,1.1),(-34.5,0.7),(-32.7,-0.2),(-37.8,-2),(-36.1,-2.65),(-32.7,-2.4),(-31.9,-2.65),(-32.9,-3.5),(-5.6,15.6),(17.7,17.7),(18.2,17.9),(34.7,32),(34.9,31.8),(32.6,27.5),(3.4,26.5),(35.6,-13.7)]
R3 = [(-39.4,29.9),(30.3,31.6),(30.9,30.4),(28.6,26.75),(35,27.7),(36.4,27.9),(31.9,25.5),(33.4,25.8),(31.9,24.65),(33.3,24.2),(25.3,22.8),(28.5,22.4),(22.7,21.4),(35.2,21.9),(33.3,19.9),(34.7,18.6),(24.6,19.2),(21.8,18.5),(22.3,17.4),(39,19),(40.4,16.7),(43.1,17),(35,15.3),(19.7,13.6),(20.9,13.7),(22.5,14.1),(22.5,12.3),(22.3,11.2),(22.6,10.6),(23.9,11.2),(28,11.3),(31.7,9.5),(-5.5,-24.9),(10,-5.6),(8.7,-27.1),(10.4,-27.8),(11.1,-27.7),(8.1,-32.2),(24.4,-18.5)]
R4 = [(-15.6,24.4),(17.4,7.4),(14.7,4.8),(2,17.4),(12.1,-5.5),(23.3,-20.6),(22.7,-23.2),(24.8,-24.4),(27,-23.4),(27.2,-24.6),(28.3,-26.1),(20.4,-25.7),(23.3,-27.15),(24.1,-27.4),(21.8,-28.7),(26.8,-28.6),(26.4,-30.6),(23.3,-30.5),(22.1,-30.1),(21.2,-31.9),(23.3,-32.8),(19.5,-33.1),(23,-34.9),(22,-35.9),(25.5,-36),(24.4,-37.6),(16.1,-34.2),(19.6,-39.7),(26.2,-40.4),(26.6,-41.2),(13.5,-41.7),(15.5,-42.7),(13.05,-45.7),(15.2,-45.9),(18.2,-46.8),(12,-50),(15.2,-50)]
R5 = [(-21.4,38.3),(-20.4,35.6),(-24.5,35.9),(-27.6,36.3),(-25.2,35.4),(-25.2,33.7),(-25.1,32.2),(-29.7,34.7),(-29.4,34.3),(-31.9,34.8),(-34,35.6),(-34.2,35.1),(-35.1,34.3),(-34.7,33.7),(-32.8,33.3),(-38,31.6),(-19.6,32.1),(-19.7,31.2),(-22.6,27.2),(-22.8,26.5),(-22,25.1),(-21.2,25.5),(-25.8,26),(-32.3,25.3),(-25.2,24.2),(-25.2,23.2),(-25.8,22.8),(-27.6,22.6),(-17.8,22.7),(-33.9,21.6),(-34.6,21),(-25.4,20.4),(-24.8,19),(-24.2,18.8),(-28.6,18.3),(-28,18.3),(-21.4,18.3),(-19.8,17.9),(-27.9,16.4),(-27.5,14.4),(13.8,40.6),(1.9,-2.6),(24.2,-17),(27.6,-23.9)]
R6 = [(-5.6,22.6),(-5.6,20.6),(-4.4,20.4),(-3.7,20.2),(-3.8,17.1),(-5.5,15.1),(-1.6,15.6),(-0.9,14.6),(-4.1,10.2),(-1.4,10.4),(-1.7,22),(2.5,21.3),(2.9,20.7),(5,19.1),(6.9,19.4),(7,18.4),(8.3,17.2),(3.4,17.4),(3.4,15.7),(1.7,15.3),(-1.5,15.7),(-0.9,14.4),(1.5,13.1),(1.4,11.8),(8.4,14.4),(8.3,12.9),(9.1,11.2),(11.7,11.1),(-1.3,10.5),(13.6,10.6),(11.6,9.3),(11.5,8.1),(10.5,7.2),(6,8.7),(6.3,7.9),(8.1,6.8),(-2.5,7.1),(-0.5,6.7),(0.2,7),(1.9,5.8),(2.8,4.5),(4.9,6.4),(5.3,5.5),(6,5.8),(14.6,6.6),(9.5,3.6),(12.4,3.1),(-1.8,4.1),(-1.1,3)]
R7 = [(-15.5,50.7),(-13.1,50.6),(-9.1,52),(-5.9,52.3),(-7.7,49.4),(-6.7,48.5),(-12.4,47.96),(-11.7,46.6),(-12.3,45.7),(-9.9,46.5),(-9.1,46.1),(-8.1,45.6),(-5.9,46.6),(-6.8,44.8),(-1.7,44.5),(-1.9,43.2),(-10.6,41),(-8.2,41),(-2.4,40.7),(-2.6,39.35),(-2.2,37.9),(-1.6,36.6),(-7.9,36.8),(-9.8,36.5),(-3,33.2),(-1,32.4),(-4.7,30.7),(-2.7,30.5),(-9.2,29.1),(-10.8,27.9),(-9.6,26.7),(1.9,43.7),(-1.1,40),(0.26,39.5),(-0.5,36.3),(0.6,35.7),(2.3,36.3),(2.75,34.2),(1.8,33.7),(0.4,32),(16.5,-32.6),(23.6,-20.2)]
R8 = [(-13.2,17),(-10.9,4.5),(-10.6,-3),(15.9,50.3),(15.8,49),(15.5,48),(11.5,46.8),(18.6,45.2),(18,45),(17.3,44.1),(18.8,44.2),(21,43),(17.3,42),(18.1,41.2),(18.2,39.6),(18,37.3),(11.8,37.7),(14.5,36.2),(16.2,36.4),(10.7,35.9),(11.25,36),(15.5,34.5),(14.8,33.9),(13.05,33),(14.8,32.6),(9.7,32.9),(20.9,33),(16.7,31.5),(6.4,30.3),(7.5,30.2),(6.3,29.3),(10.5,30.3),(12,30.2),(12.8,31.2),(13.7,29.9),(14.8,30.7),(9.3,28.85),(8.5,27.6),(10.4,26.75),(3.6,26.8),(14.5,23),(15.4,22.3),(12.8,21.3),(19.1,19.2),(17.6,19),(42.2,2.8)]
R9 = [(18.5,37.5),(15.2,22.4),(29,9.95),(31.8,9),(43.8,12.9),(44.4,12),(45.2,11),(45.9,10.2),(50,7.9),(41.9,5.5),(41.5,3.4),(45.7,5.1),(44.5,4.3),(49.8,5.1),(49.7,4.1),(51.3,5),(53.4,3.65),(46.1,3),(46.3,1.2),(44.2,0.8),(43.3,-0.55),(41.8,-1.7),(22.7,3.65),(27.2,2.7),(28.3,2.9),(28.9,0.1),(32.3,0.4),(34.3,1.55),(33.7,-0.1),(36.7,1.3),(37,-0.3),(37.3,-2),(38.2,-1.7),(21,-3.4),(20.1,-4.5),(21.2,-4.7),(22.7,-3.8),(22.3,-4.9),(20.3,-5.7),(26.2,-5),(27.3,-7.6),(24.7,-8.75),(-1.4,-6.4),(20.4,-31.4)]
R10 = [(-21.4,-18),(-15.7,-24.2),(-13.5,-23.9),(-12.2,-27.15),(-12.2,-28.2),(-9.9,-26.7),(-9.9,-28.2),(-15.7,-27.8),(-15.6,-29),(-14.6,-31.1),(-11.3,-30.5),(-10.4,-29.9),(-10.4,-31.4),(-20.9,-33.3),(-18.9,-34.1),(-18.7,-35.3),(-21.1,-35.8),(-24,-36.7),(-22.2,-36.4),(-20,-36.4),(-20.3,-37.9),(-19.9,-38.5),(-7.8,-46.4),(-7.4,-47.6),(-14.5,-47.1),(-12.5,-47.6),(-16.5,-48.6),(-13.6,-48.6),(-12,-49.5),(-9.4,-49.6),(-6.4,-49.8),(-4.8,-49.5),(-3.4,-49.4),(-3.9,-50.5),(-10.3,-51.1),(-10.1,-52),(-6.2,-52.1),(-5,-52.6),(-11.4,-53.3),(-11.2,-54.7),(-7.3,-54.5),(-18.7,-53.8),(-20.4,-54.2),(-21,-54.8)]
R11 = [(-19.3,-6.9),(-25.8,-7),(-25.4,-7.8),(-24.6,-9.5),(-22.5,-9.5),(-22.9,-11.5),(-21.3,-12.4),(-19.5,-13.5),(-19.7,-14),(-16,-15.5),(-35.1,-10.35),(-32.8,-10.6),(-29.8,-11.6),(-32.2,-13.8),(-38.4,-14.1),(-37.6,-14.1),(-36.4,-14.3),(-34.4,-14.4),(-38.1,-15.4),(-37.6,-16.2),(-31.8,-17),(-31.2,-17.3),(-25.4,-16.65),(-24.5,-18),(-36.4,-18.8),(-36.9,-19.1),(-22.8,-19.25),(-20.1,-19.8),(-29.5,-20.35),(-27.9,-20.2),(-38.1,-21),(-26.6,-22.5),(-33.1,-22.5),(-22.6,-22.3),(-23.5,-24),(-22,-24.2),(-23.3,-24.8),(-34.3,-24.8),(-32.7,-26),(-34.2,-27.4),(-31.1,-28),(-29.4,-30.5),(2.5,-5.8)]
R12 = [(-42.2,16.5),(-51.3,14.7),(-52.3,14.4),(-47.8,14.8),(-49.4,13.3),(-46,12.6),(-45.6,9.9),(-59.9,9.9),(-59,9.3),(-58.2,9),(-54.1,8.3),(-42.8,8.1),(-45.4,7.8),(-45.4,6.3),(-48.2,5.3),(-55.4,3.8),(-49.9,3.2),(-54.3,2.5),(-53.6,2.4),(-52.9,2.6),(-58,1.8),(-48.7,1.98),(-47.5,2.3),(-48.6,-0.7),(-49.3,-1),(-50,-1.6),(-51.4,-11.1),(-51,-11.4),(-48.4,-11.5),(-56.7,-13.1),(-55.7,-13.9),(-55.6,-15),(-50.2,-14.1),(-52,-14.8),(-47.8,-16.1),(-53.1,-16.6),(-51.8,-16.2),(-50.1,-17.1),(-51.4,-17.1),(-51.8,-18.5),(-52.5,-15.8),(-51,-15.5)]
R13 = [(-5.2,49.1),(-32.1,-3),(-2.6,10.2),(6.5,12.9),(17.5,18.9),(34.8,14.1),(22.4,-17.9),(38,-8.5),(35.4,-8.5),(36.4,-9.2),(34.4,-10.5),(32.4,-11.2),(36.7,-12),(33.5,-14.3),(34.9,-14.3),(36.4,-14.8),(35.2,-16),(36.6,-16.4),(39.4,-15.7),(41.2,-15),(40.6,-16.7),(36.7,-22.1),(42.1,-21.6),(43.1,-23.3),(41.8,-25.3),(45.4,-20.5),(44.8,-9.9),(45.7,-9.9),(50.1,-5.9),(50.6,-7.3),(48.5,-9.6),(49.8,-9.5),(47.9,-11.8),(46.7,-13.4),(46.3,-14.8),(47.3,-15.7),(46.9,-16.4),(49.5,-16.9),(49.2,-17.8),(50.8,-17.4),(52.5,-9),(54.3,-8.9),(54.1,-5.5),(54.7,-6.2),(54.4,-7.6),(51.2,-12),(52.3,-12),(53.5,-11.2),(54,-12.5),(55.3,-11.4),(52.9,-14.2),(54.2,-19.7),(53.5,-20.6),(51.5,-21.5)]

left_classes = [L0, L1, L2, L3, L4, L5, L6, L7, L8, L9, L10, L11, L12, L13]
right_classes = [R0, R1, R2, R3, R4, R5, R6, R7, R8, R9, R10, R11, R12, R13]
labels = [str(i) for i in range(14)]
colors = plt.cm.hsv(np.linspace(0, 0.9, 14))

W, H, DPI = 3669, 1358, 230
fig = plt.figure(figsize=(W / DPI, H / DPI), dpi=DPI)

def axes_px(x0, x1, y0, y1):
    return fig.add_axes([x0 / W, 1 - y1 / H, (x1 - x0) / W, (y1 - y0) / H])

ax1 = axes_px(113.5, 1805, 26, 1278)
ax2 = axes_px(1937, 3630, 26, 1278)

for pts, lab, col in zip(left_classes, labels, colors):
    a = np.array(pts)
    ax1.scatter(a[:, 0], a[:, 1], color=col, label=lab, s=54, linewidths=0)
for pts, lab, col in zip(right_classes, labels, colors):
    a = np.array(pts)
    ax2.scatter(a[:, 0], a[:, 1], color=col, label=lab, s=54, linewidths=0)

ax1.set_xlim(-65.6, 62.3)
ax1.set_ylim(-60.3, 60.9)
ax1.set_xticks([-60, -40, -20, 0, 20, 40, 60])
ax1.set_yticks([-60, -40, -20, 0, 20, 40, 60])
ax1.legend(loc="upper right")

ax2.set_xlim(-65.7, 61.05)
ax2.set_ylim(-60, 57.7)
ax2.set_xticks([-60, -40, -20, 0, 20, 40, 60])
ax2.set_yticks([-60, -40, -20, 0, 20, 40])

fig.savefig("out.png", dpi=DPI)
